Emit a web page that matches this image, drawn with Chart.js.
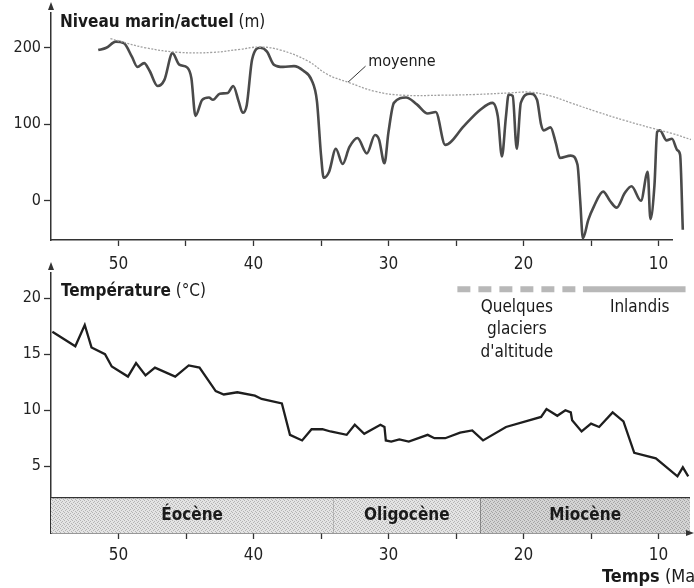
<!DOCTYPE html>
<html>
<head>
<meta charset="utf-8">
<script src="https://cdn.jsdelivr.net/npm/chart.js@4.4.1/dist/chart.umd.min.js"></script>
<style>
  html, body { margin: 0; padding: 0; background: #fff; }
  #wrap { position: relative; width: 694px; height: 588px; overflow: hidden; }
  canvas { position: absolute; left: 0; }
  #top { top: 0; }
  #bottom { top: 260px; }
</style>
</head>
<body>
<div id="wrap">
  <canvas id="top" width="694" height="280"></canvas>
  <canvas id="bottom" width="694" height="328"></canvas>
</div>
<script>
// --- data (ages in Ma) ---
const seaAge = [51.5, 50.9, 50.2, 49.6, 49.0, 48.6, 48.1, 47.7, 47.1, 46.6, 46.0, 45.5, 44.9, 44.6, 44.3, 43.8, 43.3, 43.0, 42.5, 41.9, 41.5, 41.1, 40.8, 40.5, 40.1, 39.5, 39.0, 38.5, 37.8, 37.0, 36.3, 35.7, 35.3, 35.0, 34.8, 34.4, 33.9, 33.4, 32.9, 32.3, 31.6, 31.0, 30.7, 30.3, 30.0, 29.6, 28.7, 27.9, 27.1, 26.5, 25.8, 24.4, 23.2, 22.3, 21.9, 21.6, 21.3, 21.1, 20.8, 20.5, 20.2, 19.5, 19.0, 18.7, 18.5, 18.0, 17.6, 17.3, 16.5, 16.0, 15.8, 15.6, 15.2, 14.8, 14.1, 13.6, 13.1, 12.5, 12.0, 11.3, 10.8, 10.6, 10.3, 10.1, 9.9, 9.4, 9.0, 8.6, 8.4, 8.2]
const seaLevel = [197, 200, 208, 206, 188, 175, 180, 170, 150, 158, 193, 178, 174, 160, 111, 132, 135, 132, 140, 141, 150, 130, 115, 125, 185, 200, 195, 178, 175, 176, 170, 158, 130, 60, 30, 38, 68, 48, 70, 82, 62, 86, 80, 49, 90, 128, 135, 126, 114, 116, 73, 98, 119, 128, 110, 58, 110, 139, 137, 68, 128, 140, 132, 100, 92, 96, 75, 56, 59, 47, 0, -49, -25, -8, 12, 0, -9, 10, 19, 0, 38, -24, 20, 90, 92, 79, 81, 66, 60, -38]

const meanAge = [50.6, 50.0, 48.0, 45.5, 43.0, 41.0, 39.5, 38.0, 36.0, 34.5, 33.0, 31.0, 29.0, 26.0, 23.5, 21.0, 19.5, 18.0, 16.5, 14.5, 12.5, 10.5, 9.0, 7.6]
const meanLevel = [212, 209, 200, 194, 194, 198, 201, 197, 183, 165, 155, 143, 138, 138, 139, 141, 142, 137, 128, 116, 105, 95, 88, 80]

const tempAge = [54.9, 53.2, 52.5, 52.0, 51.0, 50.5, 49.3, 48.7, 48.0, 47.3, 45.8, 44.8, 44.0, 42.8, 42.2, 41.2, 39.9, 39.4, 37.9, 37.3, 36.4, 35.7, 34.9, 34.3, 33.1, 32.5, 31.8, 30.6, 30.3, 30.2, 29.8, 29.2, 28.5, 27.1, 26.6, 25.8, 24.7, 23.8, 23.0, 21.3, 18.7, 18.3, 17.5, 16.9, 16.5, 16.4, 15.7, 15.0, 14.4, 13.4, 12.6, 11.8, 10.2, 8.6, 8.2, 7.8]
const tempValue = [17.0, 15.7, 17.6, 15.6, 15.0, 13.9, 13.0, 14.2, 13.1, 13.8, 13.0, 14.0, 13.8, 11.7, 11.4, 11.6, 11.3, 11.0, 10.6, 7.8, 7.3, 8.3, 8.3, 8.1, 7.8, 8.7, 7.9, 8.7, 8.5, 7.3, 7.2, 7.4, 7.2, 7.8, 7.5, 7.5, 8.0, 8.2, 7.3, 8.5, 9.4, 10.1, 9.5, 10.0, 9.8, 9.1, 8.1, 8.8, 8.5, 9.8, 9.0, 6.2, 5.7, 4.1, 4.9, 4.1]

const epochNames = ['Éocène', 'Oligocène', 'Miocène']
const epochBounds = [55, 34.1, 23.2, 7.67]

const glacierDashed = [24.9, 16.0]
const glacierSolid = [15.6, 8.0]

const ageTicks = [50, 45, 40, 35, 30, 25, 20, 15, 10]
const seaTicks = [0, 100, 200]
const tempTicks = [5, 10, 15, 20]

const FONT = '"Liberation Sans Narrow", "DejaVu Sans Condensed", "Arial Narrow", sans-serif'
Chart.defaults.font.family = FONT
Chart.defaults.color = '#222'

const pts = (xs, ys) => xs.map((x, i) => ({ x, y: ys[i] }))

function stipple(light, dark) {
	const c = document.createElement('canvas')
	c.width = 4
	c.height = 4
	const g = c.getContext('2d')
	g.fillStyle = light
	g.fillRect(0, 0, 4, 4)
	g.fillStyle = dark
	g.fillRect(0, 0, 1, 1)
	g.fillRect(2, 1, 1, 1)
	g.fillRect(1, 2, 1, 1)
	g.fillRect(3, 3, 1, 1)
	return g.createPattern(c, 'repeat')
}

function mixed(ctx, x, y, bold, normal, size) {
	ctx.save()
	ctx.textBaseline = 'alphabetic'
	ctx.textAlign = 'left'
	ctx.fillStyle = '#1a1a1a'
	ctx.font = 'bold ' + size + 'px ' + FONT
	ctx.fillText(bold, x, y)
	const w = ctx.measureText(bold).width
	ctx.font = size + 'px ' + FONT
	ctx.fillText(normal, x + w, y)
	ctx.restore()
}

function arrowUp(ctx, x, y) {
	ctx.beginPath()
	ctx.moveTo(x, y)
	ctx.lineTo(x - 3, y + 8)
	ctx.lineTo(x + 3, y + 8)
	ctx.closePath()
	ctx.fill()
}

const axisX = (min, max, height, tickPad) => ({
	type: 'linear',
	reverse: true,
	min,
	max,
	afterFit: (s) => { s.height = height },
	afterBuildTicks: (s) => { s.ticks = ageTicks.map((v) => ({ value: v })) },
	border: { display: true, color: '#333', width: 1.5 },
	grid: { drawOnChartArea: false, drawTicks: true, tickLength: 6, color: '#333', tickWidth: 1.3 },
	ticks: {
		autoSkip: false,
		maxRotation: 0,
		padding: tickPad,
		font: { size: 17 },
		color: '#222',
		callback: (v) => (v % 10 === 0 ? String(v) : ''),
	},
})

const axisY = (min, max, list) => ({
	type: 'linear',
	min,
	max,
	afterFit: (s) => { s.width = 51 },
	afterBuildTicks: (s) => { s.ticks = list.map((v) => ({ value: v })) },
	border: { display: true, color: '#333', width: 1.5 },
	grid: { drawOnChartArea: false, drawTicks: true, tickLength: 7, color: '#333', tickWidth: 1.3 },
	ticks: { padding: 3, font: { size: 16 }, color: '#222' },
})

const base = {
	responsive: false,
	animation: false,
	events: [],
	plugins: { legend: { display: false }, tooltip: { enabled: false } },
	elements: { point: { radius: 0 } },
}

// --- top chart: sea level ---
new Chart(document.getElementById('top'), {
	type: 'line',
	data: {
		datasets: [
			{
				data: pts(meanAge, meanLevel),
				borderColor: '#a0a0a0',
				borderWidth: 1.3,
				borderDash: [2, 1.5],
				tension: 0.4,
				clip: false,
			},
			{
				data: pts(seaAge, seaLevel),
				borderColor: '#4a4a4a',
				borderWidth: 2.6,
				cubicInterpolationMode: 'monotone',
				clip: false,
			},
		],
	},
	options: {
		...base,
		layout: { padding: { top: 8, right: 22, left: 0, bottom: 0 } },
		scales: {
			x: axisX(9.0, 55, 40, 8),
			y: axisY(-51.3, 246, seaTicks),
		},
	},
	plugins: [{
		id: 'topDecor',
		afterDraw: (chart) => {
			const ctx = chart.ctx
			const x = chart.scales.x
			const y = chart.scales.y
			ctx.save()
			ctx.fillStyle = '#333'
			arrowUp(ctx, chart.chartArea.left, 2)
			mixed(ctx, 60, 27, 'Niveau marin/actuel', ' (m)', 17)
			// moyenne label + leader
			ctx.strokeStyle = '#333'
			ctx.lineWidth = 1
			ctx.beginPath()
			ctx.moveTo(x.getPixelForValue(31.7), y.getPixelForValue(176))
			ctx.lineTo(x.getPixelForValue(33.0), y.getPixelForValue(155))
			ctx.stroke()
			ctx.fillStyle = '#1a1a1a'
			ctx.font = '16px ' + FONT
			ctx.fillText('moyenne', x.getPixelForValue(31.5), y.getPixelForValue(176))
			ctx.restore()
		},
	}],
})

// --- bottom chart: temperature ---
const bctx = document.getElementById('bottom').getContext('2d')
const epochFills = [stipple('#e4e4e4', '#b4b4b4'), stipple('#e4e4e4', '#b4b4b4'), stipple('#d4d4d4', '#a4a4a4')]
const barTop = 2.19
const barBottom = -0.96

const epochSets = epochNames.map((name, i) => ({
	data: [{ x: epochBounds[i], y: barTop }, { x: epochBounds[i + 1], y: barTop }],
	borderColor: '#333',
	borderWidth: 1.3,
	backgroundColor: epochFills[i],
	fill: { value: barBottom },
	tension: 0,
}))
const dividerSets = epochBounds.slice(1, 3).map((b) => ({
	data: [{ x: b, y: barTop }, { x: b, y: barBottom }],
	borderColor: '#333',
	borderWidth: 1.2,
	fill: false,
}))

new Chart(bctx, {
	type: 'line',
	data: {
		datasets: [
			...epochSets,
			...dividerSets,
			{
				data: [{ x: glacierDashed[0], y: 20.79 }, { x: glacierDashed[1], y: 20.79 }],
				borderColor: '#b8b8b8',
				borderWidth: 6,
				borderDash: [13, 8],
				borderCapStyle: 'butt',
				fill: false,
			},
			{
				data: [{ x: glacierSolid[0], y: 20.79 }, { x: glacierSolid[1], y: 20.79 }],
				borderColor: '#b8b8b8',
				borderWidth: 6,
				borderCapStyle: 'butt',
				fill: false,
			},
			{
				data: pts(tempAge, tempValue),
				borderColor: '#1e1e1e',
				borderWidth: 2.3,
				tension: 0,
				fill: false,
			},
		],
	},
	options: {
		...base,
		layout: { padding: { top: 8, right: 4, left: 0, bottom: 0 } },
		scales: {
			x: axisX(7.67, 55, 55, 6),
			y: axisY(barBottom, 22.28, tempTicks),
		},
	},
	plugins: [{
		id: 'bottomDecor',
		afterDraw: (chart) => {
			const ctx = chart.ctx
			const x = chart.scales.x
			const y = chart.scales.y
			const a = chart.chartArea
			ctx.save()
			ctx.fillStyle = '#333'
			arrowUp(ctx, a.left, 2)
			// right arrow on time axis
			ctx.beginPath()
			ctx.moveTo(694, a.bottom)
			ctx.lineTo(686, a.bottom - 3)
			ctx.lineTo(686, a.bottom + 3)
			ctx.closePath()
			ctx.fill()
			mixed(ctx, 61, 36, 'Température', ' (°C)', 17)
			mixed(ctx, 602, 322, 'Temps', ' (Ma)', 18)

			ctx.fillStyle = '#1a1a1a'
			ctx.font = '17px ' + FONT
			ctx.textAlign = 'center'
			ctx.textBaseline = 'alphabetic'
			const gx = x.getPixelForValue(20.5)
			const gy = y.getPixelForValue(20.79) + 23
			ctx.fillText('Quelques', gx, gy)
			ctx.fillText('glaciers', gx, gy + 22)
			ctx.fillText("d'altitude", gx, gy + 45)
			ctx.fillText('Inlandis', x.getPixelForValue(11.4), gy)

			ctx.font = 'bold 17px ' + FONT
			ctx.textBaseline = 'middle'
			const my = y.getPixelForValue((barTop + barBottom) / 2)
			epochNames.forEach((name, i) => {
				const cx = x.getPixelForValue((epochBounds[i] + epochBounds[i + 1]) / 2)
				ctx.fillText(name, cx, my)
			})
			ctx.restore()
		},
	}],
})
</script>
</body>
</html>
